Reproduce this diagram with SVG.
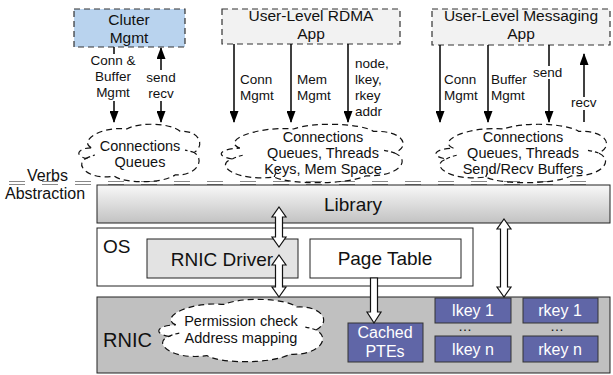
<svg xmlns="http://www.w3.org/2000/svg" width="613" height="375" viewBox="0 0 613 375">
<defs>
<marker id="ah" viewBox="0 0 12 9" refX="11" refY="4.5" markerWidth="12" markerHeight="9" markerUnits="userSpaceOnUse" orient="auto-start-reverse"><path d="M0,0 L12,4.5 L0,9 Z" fill="#000"/></marker>
<linearGradient id="libg" x1="0" y1="0" x2="0" y2="1"><stop offset="0" stop-color="#f8f8f8"/><stop offset="1" stop-color="#c2c2c2"/></linearGradient>
</defs>
<style>
text{font-family:"Liberation Sans",Arial,Helvetica,sans-serif;fill:#111}
.app{stroke:#333;stroke-width:1.2;stroke-dasharray:6 4}
.cloud{fill:none;stroke:#111;stroke-width:1.2;stroke-dasharray:6 4}
.curl{fill:none;stroke:#111;stroke-width:1.2;stroke-dasharray:4 3}
.t17{font-size:15.5px;text-anchor:middle}
.t19{font-size:19px}
.c14{font-size:14.5px;text-anchor:middle}
.lbl{font-size:13.5px}
.arr{stroke:#000;stroke-width:1.5;fill:none}
.hol{fill:#fff;stroke:#111;stroke-width:1.2}
.key{fill:#6066a7;stroke:#333;stroke-width:1}
.kt{font-size:16px;fill:#fff;text-anchor:middle}
.bg{fill:#fff}
</style>

<!-- Verbs abstraction line -->
<g id="verbs">
<line x1="9" y1="181.5" x2="600" y2="181.5" stroke="#888" stroke-width="1" stroke-dasharray="16 17"/>
<line x1="9" y1="184.5" x2="600" y2="184.5" stroke="#888" stroke-width="1" stroke-dasharray="16 17"/>
<text x="27" y="181" font-size="16">Verbs</text>
<text x="5" y="199" font-size="16">Abstraction</text>
</g>

<g id="cluster">
<rect class="app" x="74" y="9" width="111" height="38" fill="#b9d3ee"/>
<text class="t17" x="129" y="24.5">Cluter</text>
<text class="t17" x="129" y="42.5">Mgmt</text>
</g>
<g id="rdma-app">
<rect class="app" x="222" y="9" width="178" height="35" fill="#f2f2f2"/>
<text class="t17" x="311" y="21">User-Level RDMA</text>
<text class="t17" x="311" y="39">App</text>
</g>
<g id="msg-app">
<rect class="app" x="432" y="9" width="178" height="36" fill="#f2f2f2"/>
<text class="t17" x="521" y="21">User-Level Messaging</text>
<text class="t17" x="521" y="39">App</text>
</g>

<g id="cloud1" transform="translate(76,123)">
<path class="cloud" d="M15.2,24.8 C2.5,17.7 25.4,3 50.8,5.9 C63.5,-1.2 95.3,0 104.1,8.3 C123.2,7.1 129.5,22.4 118.1,29.5 C129.5,36.6 120.7,53.1 99.1,51.9 C86.4,60.8 48.3,60.8 38.1,53.1 C12.7,57.8 -2.5,41.3 10.2,35.4 C-2.5,32.5 2.5,24.8 15.2,24.8 Z"/>
<path class="curl" d="M10.2,35.4 Q15,33 19,32 M118.1,29.5 Q114,28 109,27.1"/>
<text class="c14" x="64" y="28">Connections</text>
<text class="c14" x="64" y="44">Queues</text>
</g>
<g id="cloud2" transform="translate(217,123)">
<path class="cloud" d="M22.9,25.2 C3.8,18 38.2,3 76.4,6 C95.5,-1.2 143.3,0 156.6,8.4 C185.3,7.2 194.8,22.8 177.6,30 C194.8,37.2 181.5,54 149,52.8 C129.9,61.8 72.6,61.8 57.3,54 C19.1,58.8 -3.8,42 15.3,36 C-3.8,33 3.8,25.2 22.9,25.2 Z"/>
<path class="curl" d="M15.3,36 Q21,33 27,32 M177.6,30 Q172,28 165,27 M57.3,54 Q58,50 62,47"/>
<text class="c14" x="106" y="19">Connections</text>
<text class="c14" x="106" y="35">Queues, Threads</text>
<text class="c14" x="106" y="51">Keys, Mem Space</text>
</g>
<g id="cloud3" transform="translate(432,123)">
<path class="cloud" d="M21.5,25.2 C3.6,18 35.8,3 71.6,6 C89.5,-1.2 134.3,0 146.8,8.4 C173.6,7.2 182.6,22.8 166.5,30 C182.6,37.2 170.1,54 139.6,52.8 C121.7,61.8 68,61.8 53.7,54 C17.9,58.8 -3.6,42 14.3,36 C-3.6,33 3.6,25.2 21.5,25.2 Z"/>
<path class="curl" d="M14.3,36 Q20,33 26,32 M166.5,30 Q161,28 154,27 M53.7,54 Q55,50 59,47"/>
<text class="c14" x="91" y="19">Connections</text>
<text class="c14" x="91" y="35">Queues, Threads</text>
<text class="c14" x="91" y="51">Send/Recv Buffers</text>
</g>

<g id="connectors">
<line class="arr" x1="114" y1="47" x2="114" y2="122" marker-end="url(#ah)"/>
<line class="arr" x1="161" y1="122" x2="161" y2="48" marker-start="url(#ah)" marker-end="url(#ah)"/>
<line class="arr" x1="234" y1="44" x2="234" y2="122" marker-end="url(#ah)"/>
<line class="arr" x1="291" y1="44" x2="291" y2="122" marker-end="url(#ah)"/>
<line class="arr" x1="348" y1="44" x2="348" y2="122" marker-end="url(#ah)"/>
<line class="arr" x1="440" y1="45" x2="440" y2="122" marker-end="url(#ah)"/>
<line class="arr" x1="488" y1="45" x2="488" y2="122" marker-end="url(#ah)"/>
<line class="arr" x1="549" y1="45" x2="549" y2="122" marker-end="url(#ah)"/>
<line class="arr" x1="584" y1="122" x2="584" y2="54" marker-end="url(#ah)"/>
<rect class="bg" x="88" y="54" width="51" height="47"/>
<text class="lbl" x="113" y="65" text-anchor="middle">Conn &amp;</text>
<text class="lbl" x="113" y="81" text-anchor="middle">Buffer</text>
<text class="lbl" x="113" y="97" text-anchor="middle">Mgmt</text>
<rect class="bg" x="146" y="70" width="30" height="31"/>
<text class="lbl" x="161" y="82" text-anchor="middle">send</text>
<text class="lbl" x="161" y="98" text-anchor="middle">recv</text>
<text class="lbl" x="240" y="84">Conn</text>
<text class="lbl" x="240" y="100">Mgmt</text>
<text class="lbl" x="297" y="84">Mem</text>
<text class="lbl" x="297" y="100">Mgmt</text>
<text class="lbl" x="355" y="68">node,</text>
<text class="lbl" x="355" y="84">lkey,</text>
<text class="lbl" x="355" y="100">rkey</text>
<text class="lbl" x="355" y="116">addr</text>
<text class="lbl" x="444" y="84">Conn</text>
<text class="lbl" x="444" y="100">Mgmt</text>
<text class="lbl" x="491" y="84">Buffer</text>
<text class="lbl" x="491" y="100">Mgmt</text>
<rect class="bg" x="533" y="66" width="32" height="13"/>
<text class="lbl" x="533" y="77">send</text>
<rect class="bg" x="570" y="97" width="30" height="13"/>
<text class="lbl" x="571" y="107">recv</text>
</g>

<g id="library">
<rect x="97" y="185" width="513" height="38" fill="url(#libg)" stroke="#222" stroke-width="1"/>
<text class="t19" x="353" y="211" text-anchor="middle">Library</text>
</g>
<g id="os">
<rect x="97" y="228" width="376" height="58" fill="#fff" stroke="#222" stroke-width="1"/>
<text class="t19" x="103" y="253">OS</text>
</g>
<g id="rnic-driver">
<rect x="147" y="239" width="151" height="39" fill="#e3e3e3" stroke="#222" stroke-width="1"/>
<text class="t19" x="222" y="266" text-anchor="middle">RNIC Driver</text>
</g>
<g id="page-table">
<rect x="310" y="239" width="151" height="39" fill="#fff" stroke="#222" stroke-width="1"/>
<text class="t19" x="385" y="265" text-anchor="middle">Page Table</text>
</g>
<g id="rnic">
<rect x="97" y="297" width="513" height="76" fill="#c0c0c0" stroke="#222" stroke-width="1"/>
<text x="103" y="347" font-size="20">RNIC</text>
</g>
<g id="perm-cloud" transform="translate(155,298)">
<path class="cloud" style="fill:#fff" d="M20.8,26.9 C3.5,19.2 34.6,3.2 69.2,6.4 C86.5,-1.3 129.8,0 141.9,9 C167.8,7.7 176.5,24.3 160.9,32 C176.5,39.7 164.4,57.6 134.9,56.3 C117.6,65.9 65.7,65.9 51.9,57.6 C17.3,62.7 -3.5,44.8 13.8,38.4 C-3.5,35.2 3.5,26.9 20.8,26.9 Z"/>
<path class="curl" d="M13.8,38.4 Q19,36 25,35 M160.9,32 Q156,30 150,29"/>
<text class="c14" x="86" y="28">Permission check</text>
<text class="c14" x="86" y="45">Address mapping</text>
</g>
<g id="cached-ptes">
<rect class="key" x="348" y="323" width="75" height="39"/>
<text class="kt" x="385" y="338">Cached</text>
<text class="kt" x="385" y="357">PTEs</text>
</g>
<g id="lkeys">
<rect class="key" x="435" y="298" width="76" height="25"/>
<text class="kt" x="473" y="316">lkey 1</text>
<text x="465" y="331" font-size="14" text-anchor="middle">…</text>
<rect class="key" x="435" y="336" width="76" height="26"/>
<text class="kt" x="473" y="355">lkey n</text>
</g>
<g id="rkeys">
<rect class="key" x="523" y="298" width="75" height="25"/>
<text class="kt" x="560" y="316">rkey 1</text>
<text x="557" y="331" font-size="14" text-anchor="middle">…</text>
<rect class="key" x="523" y="336" width="75" height="26"/>
<text class="kt" x="560" y="355">rkey n</text>
</g>

<g id="hollow-arrows">
<polygon class="hol" points="279,207 286,217 282.5,217 282.5,237 286,237 279,247 272,237 275.5,237 275.5,217 272,217"/>
<polygon class="hol" points="279,255 286,265 282.5,265 282.5,287 286,287 279,297 272,287 275.5,287 275.5,265 272,265"/>
<polygon class="hol" points="504,219 511,229 507.5,229 507.5,287 511,287 504,297 497,287 500.5,287 500.5,229 497,229"/>
<polygon class="hol" points="370.5,278 377.5,278 377.5,312 381,312 374,323 367,312 370.5,312"/>
</g>
</svg>
